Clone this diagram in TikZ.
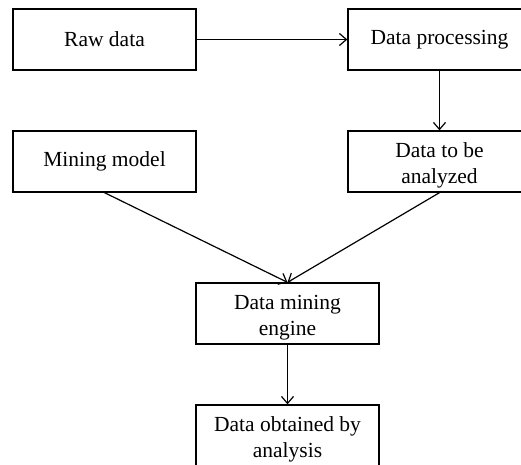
\documentclass[tikz,border=0pt]{standalone}
\usepackage{fontspec}
\setmainfont{Liberation Serif}
\usetikzlibrary{arrows.meta}
\newcommand{\lowstrut}{\rule{0pt}{22.5pt}}
\begin{document}
\begin{tikzpicture}[x=1pt,y=-1pt,
  box/.style={draw,line width=1.3pt,minimum width=183pt,minimum height=61pt,inner sep=0pt,align=center,font=\fontsize{21.5}{25.5}\selectfont},
  conn/.style={line width=1.2pt,-{Straight Barb[length=7pt,width=12pt,line width=1.2pt]}}]
\useasboundingbox (0,0) rectangle (521,464);
\clip (0,0) rectangle (521,464);
\node[box] (raw) at (104.5,39.5) {Raw data};
\node[box] (proc) at (439.5,39.5) {Data processing};
\node[box] (model) at (104.5,161.5) {Mining model};
\node[box] (tba) at (439.5,161.5) {\lowstrut Data to be\\analyzed};
\node[box] (eng) at (287.5,313.5) {\lowstrut Data mining\\engine};
\node[box] (obt) at (287.5,435.5) {\lowstrut Data obtained by\\analysis};
\draw[conn] (raw.east) -- (proc.west);
\draw[conn] (proc.south) -- (tba.north);
\draw[conn] (model.south) -- (eng.north);
\draw[conn] (tba.south) -- (eng.north);
\draw[conn] (eng.south) -- (obt.north);
\end{tikzpicture}
\end{document}
